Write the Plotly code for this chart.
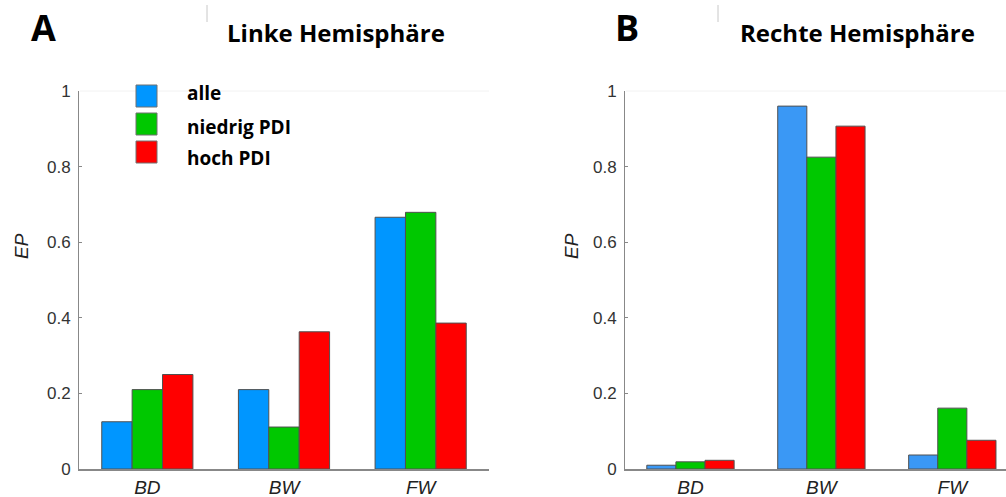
import plotly.graph_objects as go

categories = ["BD", "BW", "FW"]
series_names = ["alle", "niedrig PDI", "hoch PDI"]
left_values = {
    "alle": [0.125, 0.21, 0.666],
    "niedrig PDI": [0.21, 0.111, 0.679],
    "hoch PDI": [0.25, 0.363, 0.386],
}
right_values = {
    "alle": [0.010, 0.960, 0.037],
    "niedrig PDI": [0.019, 0.825, 0.161],
    "hoch PDI": [0.023, 0.907, 0.076],
}
left_colors = ["#0096FF", "#00C800", "#FF0000"]
right_colors = ["#3A98F5", "#00C800", "#FF0000"]
y_ticks = [0, 0.2, 0.4, 0.6, 0.8, 1]
y_ticklabels = ["0", "0.2", "0.4", "0.6", "0.8", "1"]

W, H = 1006, 497
def px(x):
    return x / W
def py(y):
    return 1 - y / H

fig = go.Figure()
for name, col in zip(series_names, left_colors):
    fig.add_trace(go.Bar(x=categories, y=left_values[name], name=name,
                         marker=dict(color=col, line=dict(color="#505050", width=1)),
                         xaxis="x", yaxis="y", showlegend=False))
for name, col in zip(series_names, right_colors):
    fig.add_trace(go.Bar(x=categories, y=right_values[name], name=name,
                         marker=dict(color=col, line=dict(color="#505050", width=1)),
                         xaxis="x2", yaxis="y2", showlegend=False))

ydom = [py(469), py(91)]
tickfont = dict(family="Liberation Sans, Arial", size=17, color="#333333")
xtickfont = dict(family="Liberation Sans, Arial", size=19, color="#222222", style="italic")
yax = dict(range=[0, 1], domain=ydom, tickvals=y_ticks, ticktext=y_ticklabels,
           ticks="inside", ticklen=3, tickcolor="#888888", showline=True,
           linecolor="#888888", linewidth=1, showgrid=False, zeroline=False,
           tickfont=tickfont, automargin=False, ticklabelstandoff=4)
xax = dict(showline=True, linecolor="#888888", linewidth=1.5, ticks="",
           tickfont=xtickfont, showgrid=False, zeroline=False, automargin=False,
           ticklabelstandoff=0)

fig.update_layout(
    template="none",
    width=W, height=H, margin=dict(l=0, r=0, t=0, b=0, pad=0),
    paper_bgcolor="white", plot_bgcolor="white",
    barmode="group", bargap=0.333, bargroupgap=0,
    xaxis=dict(xax, domain=[px(79), px(489)], range=[-0.5, 2.5], anchor="y"),
    yaxis=dict(yax, anchor="x"),
    xaxis2=dict(xax, domain=[px(625), 1.0], range=[-0.5, 2.41], anchor="y2"),
    yaxis2=dict(yax, anchor="x2"),
)

# faint top border lines at y=1
for x0, x1 in [(80, 489), (626, 1006)]:
    fig.add_shape(type="line", xref="paper", yref="paper", x0=px(x0), x1=px(x1),
                  y0=py(91), y1=py(91), line=dict(color="#F2F2F2", width=1))
# small marks near the top
for x in [207, 718]:
    fig.add_shape(type="line", xref="paper", yref="paper", x0=px(x), x1=px(x),
                  y0=py(5), y1=py(22), line=dict(color="#C8C8C8", width=1))

def ann(text, x, y, font, xanchor="center", angle=0):
    fig.add_annotation(text=text, x=px(x), y=py(y), xref="paper", yref="paper",
                       xanchor=xanchor, yanchor="middle", showarrow=False,
                       textangle=angle, font=font)

big = dict(family="Open Sans", size=36, color="black")
title_font = dict(family="Open Sans", size=24, color="black")
ann("<b>A</b>", 43, 27, big)
ann("<b>B</b>", 627, 27, big)
ann("<b>Linke Hemisphäre</b>", 336, 33, title_font)
ann("<b>Rechte Hemisphäre</b>", 857, 33, title_font)

for xc in [21, 571]:
    ann("EP", xc, 246, dict(family="Liberation Sans, Arial", size=19, color="#222222", style="italic"), angle=-90)

# legend drawn manually
sq_tops = [85, 113, 141]
label_y = [93, 127, 158]
for name, col, top, ly in zip(series_names, left_colors, sq_tops, label_y):
    fig.add_shape(type="rect", xref="paper", yref="paper", x0=px(136), x1=px(157),
                  y0=py(top + 22), y1=py(top), fillcolor=col,
                  line=dict(color="#707070", width=1))
    ann("<b>" + name + "</b>", 185, ly, dict(family="Open Sans", size=19, color="black"), xanchor="left")

fig.write_html(
    "out.html",
    config={"displayModeBar": False},
    post_script="document.documentElement.style.margin='0';document.body.style.margin='0';"
                "document.body.style.padding='0';document.body.style.overflow='hidden';",
)
